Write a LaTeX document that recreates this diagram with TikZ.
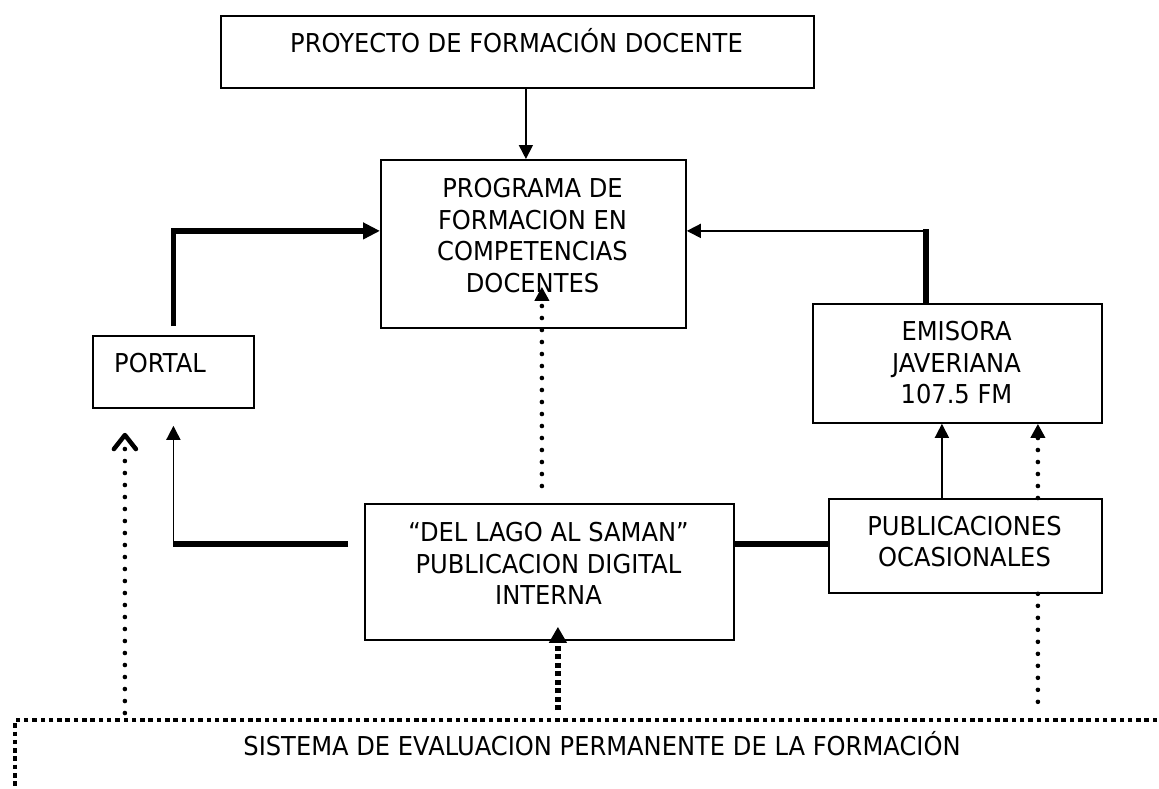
\documentclass[tikz,border=0pt]{standalone}
\usepackage{fontspec}
\setmainfont{DejaVu Sans}[FakeStretch=0.93]
\usetikzlibrary{arrows.meta,calc}
\tikzset{
 box/.style={draw, line width=1.8pt, inner sep=0pt, anchor=north west},
 txt/.style={align=center, inner sep=0pt, font=\fontsize{26pt}{31.5pt}\selectfont},
 thinarr/.style={line width=1.6pt, -{Triangle[length=14pt,width=14pt]}},
 thk/.style={line width=5.5pt},
 thkarr/.style={line width=5.5pt, -{Triangle[length=17pt,width=16pt]}},
 rdots/.style={line width=4.6pt, line cap=round, dash pattern=on 0pt off 12pt},
 sqdots/.style={line width=4pt, dash pattern=on 4.5pt off 3.8pt},
 sqdash/.style={line width=5.5pt, dash pattern=on 5pt off 3.5pt},
 tipfill/.style={-{Triangle[length=14pt,width=14pt]}},
}
\begin{document}
\begin{tikzpicture}[x=1pt,y=-1pt]
\clip (0,0) rectangle (1159,788);
\fill[white] (0,0) rectangle (1159,788);

% boxes
\node[box, minimum width=593pt, minimum height=72pt] (top) at (220,15) {};
\node[box, minimum width=305pt, minimum height=168pt] (prog) at (380,159) {};
\node[box, minimum width=161pt, minimum height=72pt] (portal) at (92,335) {};
\node[box, minimum width=289pt, minimum height=119pt] (emisora) at (812,303) {};
\node[box, minimum width=369pt, minimum height=136pt] (dellago) at (364,503) {};
\node[box, minimum width=273pt, minimum height=94pt] (pub) at (828,498) {};
\node[box, sqdots, minimum width=1200pt, minimum height=120pt] (sist) at (13,718) {};

% texts
\node[txt, anchor=base] (toptxt) at (516.5,52.5) {PROYECTO DE FORMACIÓN DOCENTE};
\node[txt] (progtxt) at (532.5,235.5) {PROGRAMA DE\\FORMACION EN\\COMPETENCIAS\\DOCENTES};
\node[txt, anchor=base] (portaltxt) at (160,372.5) {PORTAL};
\node[txt] (emitxt) at (956.5,362.7) {EMISORA\\JAVERIANA\\107.5 FM};
\node[txt] (dltxt) at (548.5,563.5) {“DEL LAGO AL SAMAN”\\PUBLICACION DIGITAL\\INTERNA};
\node[txt] (pubtxt) at (964.5,541.5) {PUBLICACIONES\\OCASIONALES};
\node[txt, anchor=base] (sisttxt) at (602,755.5) {SISTEMA DE EVALUACION PERMANENTE DE LA FORMACIÓN};

% helper coordinates
\coordinate (a1) at ([xshift=8.5pt]top.south);
\coordinate (progW) at ([yshift=13pt]prog.west);
\coordinate (progE) at ([yshift=13pt]prog.east);
\coordinate (pT) at ([yshift=9pt]portal.north);
\coordinate (emiT) at ([xshift=-31.5pt]emisora.north);
\coordinate (rc) at (emiT |- progE);
\coordinate (c1) at ([xshift=-7.5pt,yshift=17pt]dellago.north);
\coordinate (ps) at ([yshift=42pt]prog.south);
\coordinate (pS) at ([xshift=-48.5pt,yshift=-24pt]portal.south);
\coordinate (l0) at (pS |- sist.north);
\coordinate (l1) at ([yshift=5pt]l0);
\coordinate (dlW) at ([xshift=-16pt,yshift=28pt]dellago.west);
\coordinate (ptip) at ([yshift=-17pt]portal.south);
\coordinate (pc) at (ptip |- dlW);
\coordinate (dlE) at ([yshift=28pt]dellago.east);
\coordinate (dlS) at ([xshift=8.5pt,yshift=14pt]dellago.south);
\coordinate (s0) at (dlS |- sist.north);
\coordinate (s1) at ([yshift=8pt]s0);
\coordinate (pN1) at ([xshift=-23.5pt]pub.north);
\coordinate (pN2) at ([xshift=72.5pt]pub.north);
\coordinate (pS2) at ([xshift=72.5pt]pub.south);
\coordinate (q0) at (pS2 |- sist.north);
\coordinate (q1) at ([yshift=14pt]q0);

% connectors
\draw[thinarr] (a1) -- (a1 |- prog.north);
\draw[thkarr] (pT) |- (progW);
\draw[thk] (emiT) -- ([yshift=2pt]rc);
\draw[thinarr] (rc) -- (progE);
\draw[rdots, tipfill] (c1) -- (c1 |- ps);
\draw[rdots, -{Straight Barb[length=14pt,width=22pt,line width=4.5pt,round]}] (l1) -- (pS);
\draw[thk] (dlW) -- (pc);
\draw[thinarr] (pc) -- (ptip);
\draw[thk] (dlE) -- (dlE -| pub.west);
\draw[sqdash, -{Triangle[length=16pt,width=17pt]}] (s1) -- (dlS);
\draw[thinarr] (pN1) -- (pN1 |- emisora.south);
\draw[rdots, tipfill] (pN2) -- (pN2 |- emisora.south);
\draw[rdots] (pS2) -- (q1);
\end{tikzpicture}
\end{document}
